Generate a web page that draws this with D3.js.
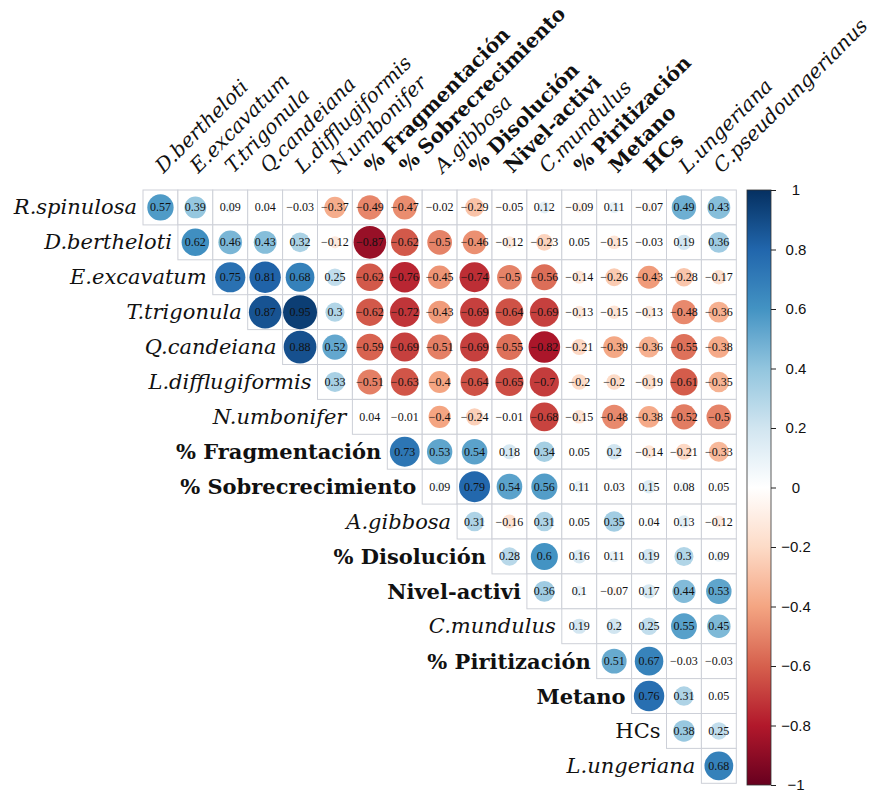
<!DOCTYPE html>
<html>
<head>
<meta charset="utf-8">
<script src="https://cdn.jsdelivr.net/npm/d3@7"></script>
<style>
  html, body { margin: 0; padding: 0; background: #fff; }
  svg { display: block; }
</style>
</head>
<body>
<svg id="chart" width="879" height="794"></svg>
<script>
// Variables along the rows (top to bottom) and columns (left to right)
const rowNames = ["R.spinulosa", "D.bertheloti", "E.excavatum", "T.trigonula", "Q.candeiana",
  "L.difflugiformis", "N.umbonifer", "% Fragmentación", "% Sobrecrecimiento", "A.gibbosa",
  "% Disolución", "Nivel-activi", "C.mundulus", "% Piritización", "Metano", "HCs", "L.ungeriana"];
const colNames = ["D.bertheloti", "E.excavatum", "T.trigonula", "Q.candeiana", "L.difflugiformis",
  "N.umbonifer", "% Fragmentación", "% Sobrecrecimiento", "A.gibbosa", "% Disolución",
  "Nivel-activi", "C.mundulus", "% Piritización", "Metano", "HCs", "L.ungeriana", "C.pseudoungerianus"];

// Label styles: i = italic (taxa), b = bold (variables), n = regular
const rowStyles = ["i","i","i","i","i","i","i","b","b","i","b","b","i","b","b","n","i"];
const colStyles = ["i","i","i","i","i","i","b","b","i","b","b","i","b","b","b","i","i"];

// Upper-triangle correlation coefficients; row k starts at column k
const rSpinulosa   = [0.57, 0.39, 0.09, 0.04, -0.03, -0.37, -0.49, -0.47, -0.02, -0.29, -0.05, 0.12, -0.09, 0.11, -0.07, 0.49, 0.43];
const dBertheloti  = [0.62, 0.46, 0.43, 0.32, -0.12, -0.87, -0.62, -0.5, -0.46, -0.12, -0.23, 0.05, -0.15, -0.03, 0.19, 0.36];
const eExcavatum   = [0.75, 0.81, 0.68, 0.25, -0.62, -0.76, -0.45, -0.74, -0.5, -0.56, -0.14, -0.26, -0.43, -0.28, -0.17];
const tTrigonula   = [0.87, 0.95, 0.3, -0.62, -0.72, -0.43, -0.69, -0.64, -0.69, -0.13, -0.15, -0.13, -0.48, -0.36];
const qCandeiana   = [0.88, 0.52, -0.59, -0.69, -0.51, -0.69, -0.55, -0.82, -0.21, -0.39, -0.36, -0.55, -0.38];
const lDifflug     = [0.33, -0.51, -0.63, -0.4, -0.64, -0.65, -0.7, -0.2, -0.2, -0.19, -0.61, -0.35];
const nUmbonifer   = [0.04, -0.01, -0.4, -0.24, -0.01, -0.68, -0.15, -0.48, -0.38, -0.52, -0.5];
const fragmentacion = [0.73, 0.53, 0.54, 0.18, 0.34, 0.05, 0.2, -0.14, -0.21, -0.33];
const sobrecrec    = [0.09, 0.79, 0.54, 0.56, 0.11, 0.03, 0.15, 0.08, 0.05];
const aGibbosa     = [0.31, -0.16, 0.31, 0.05, 0.35, 0.04, 0.13, -0.12];
const disolucion   = [0.28, 0.6, 0.16, 0.11, 0.19, 0.3, 0.09];
const nivelActivi  = [0.36, 0.1, -0.07, 0.17, 0.44, 0.53];
const cMundulus    = [0.19, 0.2, 0.25, 0.55, 0.45];
const piritizacion = [0.51, 0.67, -0.03, -0.03];
const metano       = [0.76, 0.31, 0.05];
const hcs          = [0.38, 0.25];
const lUngeriana   = [0.68];

const rowValues = [rSpinulosa, dBertheloti, eExcavatum, tTrigonula, qCandeiana, lDifflug,
  nUmbonifer, fragmentacion, sobrecrec, aGibbosa, disolucion, nivelActivi, cMundulus,
  piritizacion, metano, hcs, lUngeriana];

const legendTicks = [1, 0.8, 0.6, 0.4, 0.2, 0, -0.2, -0.4, -0.6, -0.8, -1];
const paletteRdBu = ["#67001F", "#B2182B", "#D6604D", "#F4A582", "#FDDBC7", "#FFFFFF",
  "#D1E5F0", "#92C5DE", "#4393C3", "#2166AC", "#053061"];

// ---- layout ----
const gridLeft = 143, gridTop = 190, cell = 34.9;
const n = colNames.length;

const x = d3.scaleBand().domain(d3.range(n)).range([gridLeft, gridLeft + n * cell]);
const y = d3.scaleBand().domain(d3.range(rowNames.length)).range([gridTop, gridTop + rowNames.length * cell]);
const color = d3.scaleLinear()
  .domain(d3.range(paletteRdBu.length).map(i => -1 + 2 * i / (paletteRdBu.length - 1)))
  .range(paletteRdBu);
const radius = d3.scaleSqrt().domain([0, 1]).range([0, cell * 0.5]);

const fmt = v => (v < 0 ? "\u2212" : "") + String(Math.abs(v));

const svg = d3.select("#chart");
const serif = "'DejaVu Serif', 'Liberation Serif', serif";

// flatten matrix into cells
const cells = [];
rowValues.forEach((vals, r) => vals.forEach((v, k) => cells.push({ r, c: r + k, v })));

const g = svg.append("g");

// grid
g.selectAll("rect.cell").data(cells).join("rect")
  .attr("class", "cell")
  .attr("x", d => x(d.c)).attr("y", d => y(d.r))
  .attr("width", x.bandwidth()).attr("height", y.bandwidth())
  .attr("fill", "#fff").attr("stroke", "#cdd0d8").attr("stroke-width", 1);

// circles
g.selectAll("circle.mark").data(cells).join("circle")
  .attr("class", "mark")
  .attr("cx", d => x(d.c) + x.bandwidth() / 2)
  .attr("cy", d => y(d.r) + y.bandwidth() / 2)
  .attr("r", d => radius(Math.abs(d.v)))
  .attr("fill", d => color(d.v));

// coefficients
g.selectAll("text.num").data(cells).join("text")
  .attr("class", "num")
  .attr("x", d => x(d.c) + x.bandwidth() / 2)
  .attr("y", d => y(d.r) + y.bandwidth() / 2)
  .attr("text-anchor", "middle").attr("dominant-baseline", "central")
  .attr("font-family", "'Liberation Serif', serif").attr("font-size", 12)
  .attr("fill", "#111")
  .text(d => fmt(d.v));

const styleAttrs = (sel, styles) => sel
  .attr("font-style", (d, i) => styles[i] === "i" ? "italic" : "normal")
  .attr("font-weight", (d, i) => styles[i] === "b" ? "bold" : "normal");

// row labels
styleAttrs(svg.append("g").selectAll("text").data(rowNames).join("text"), rowStyles)
  .attr("x", (d, i) => x(i) - 6)
  .attr("y", (d, i) => y(i) + y.bandwidth() / 2)
  .attr("text-anchor", "end").attr("dominant-baseline", "central")
  .attr("font-family", serif).attr("font-size", 21).attr("fill", "#111")
  .text(d => d);

// column labels
styleAttrs(svg.append("g").selectAll("text").data(colNames).join("text"), colStyles)
  .attr("transform", (d, i) => `translate(${x(i) + x.bandwidth() / 2 + 3},${gridTop - 16}) rotate(-45)`)
  .attr("text-anchor", "start")
  .attr("font-family", serif).attr("font-size", 20).attr("fill", "#111")
  .text(d => d);

// ---- colour legend ----
const barX = 747, barW = 24, barTop = 190, barBottom = 785;
const ly = d3.scaleLinear().domain([-1, 1]).range([barBottom, barTop]);

const grad = svg.append("defs").append("linearGradient")
  .attr("id", "rdbu").attr("x1", 0).attr("y1", 1).attr("x2", 0).attr("y2", 0);
grad.selectAll("stop").data(d3.range(0, 1.0001, 0.05)).join("stop")
  .attr("offset", t => t)
  .attr("stop-color", t => color(-1 + 2 * t));

svg.append("rect")
  .attr("x", barX).attr("y", barTop).attr("width", barW).attr("height", barBottom - barTop)
  .attr("fill", "url(#rdbu)").attr("stroke", "#333").attr("stroke-width", 0.8);

const axis = svg.append("g")
  .attr("transform", `translate(${barX + barW},0)`)
  .call(d3.axisRight(ly).tickValues(legendTicks).tickSize(5)
    .tickFormat(v => v === 0 ? "0" : (v < 0 ? "\u2212" : "") + d3.format("~g")(Math.abs(v))));
axis.select(".domain").remove();
axis.selectAll(".tick line").attr("stroke", "#222");
axis.selectAll(".tick text")
  .attr("x", 25).attr("text-anchor", "middle")
  .attr("font-family", "'Liberation Sans', Arial, sans-serif").attr("font-size", 15).attr("fill", "#111");
</script>
</body>
</html>
